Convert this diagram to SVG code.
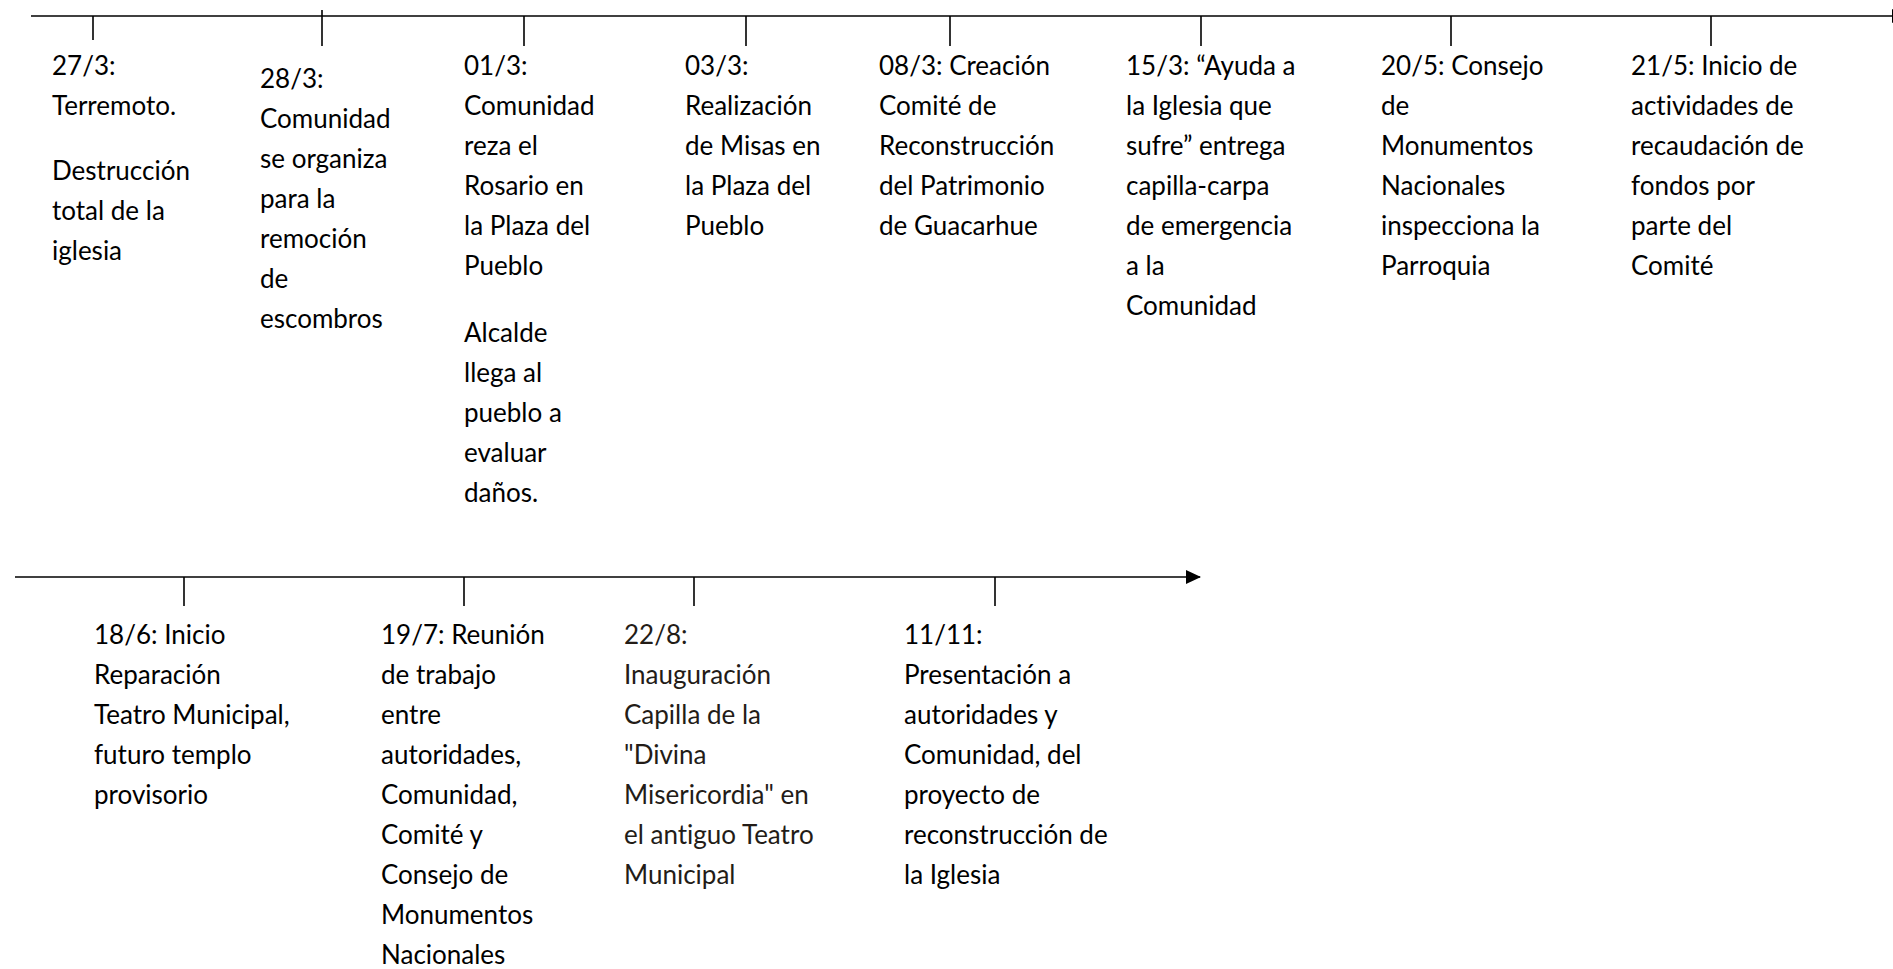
<svg xmlns="http://www.w3.org/2000/svg" width="1893" height="969" viewBox="0 0 1893 969">
<style>
  .ln { stroke: #000; stroke-width: 1.6; fill: none; }
  .tk { stroke: #000; stroke-width: 1.6; }
  text { font-family: Lato, "Open Sans", "Liberation Sans", sans-serif; font-size: 26px; fill: #000; font-variant-ligatures: none; font-feature-settings: "liga" 0, "dlig" 0; }
  .brown { fill: #231c17; }
</style>
<defs>
  <marker id="arr" markerWidth="16" markerHeight="14" refX="14" refY="7" orient="auto" markerUnits="userSpaceOnUse">
    <path d="M0,0 L15,7 L0,14 Z" fill="#000"/>
  </marker>
</defs>
<rect width="1893" height="969" fill="#fff"/>
<g id="connectors">
  <line class="ln" x1="31" y1="16" x2="1906" y2="16" marker-end="url(#arr)"/>
  <line class="ln" x1="15" y1="577" x2="1200" y2="577" marker-end="url(#arr)"/>
  <line class="tk" x1="93" y1="16" x2="93" y2="40"/>
  <line class="tk" x1="322" y1="10" x2="322" y2="46"/>
  <line class="tk" x1="524" y1="16" x2="524" y2="46"/>
  <line class="tk" x1="746" y1="16" x2="746" y2="46"/>
  <line class="tk" x1="950" y1="16" x2="950" y2="46"/>
  <line class="tk" x1="1201" y1="16" x2="1201" y2="46"/>
  <line class="tk" x1="1451" y1="16" x2="1451" y2="46"/>
  <line class="tk" x1="1711" y1="16" x2="1711" y2="46"/>
  <line class="tk" x1="184" y1="577" x2="184" y2="606"/>
  <line class="tk" x1="464" y1="577" x2="464" y2="606"/>
  <line class="tk" x1="694" y1="577" x2="694" y2="606"/>
  <line class="tk" x1="995" y1="577" x2="995" y2="606"/>
</g>
<g id="e2703">
  <text x="52" y="75">27/3:</text>
  <text x="52" y="115">Terremoto.</text>
  <text x="52" y="180">Destrucción</text>
  <text x="52" y="220">total de la</text>
  <text x="52" y="260">iglesia</text>
</g>
<g id="e2803">
  <text x="260" y="88">28/3:</text>
  <text x="260" y="128">Comunidad</text>
  <text x="260" y="168">se organiza</text>
  <text x="260" y="208">para la</text>
  <text x="260" y="248">remoción</text>
  <text x="260" y="288">de</text>
  <text x="260" y="328">escombros</text>
</g>
<g id="e0103">
  <text x="464" y="75">01/3:</text>
  <text x="464" y="115">Comunidad</text>
  <text x="464" y="155">reza el</text>
  <text x="464" y="195">Rosario en</text>
  <text x="464" y="235">la Plaza del</text>
  <text x="464" y="275">Pueblo</text>
  <text x="464" y="342">Alcalde</text>
  <text x="464" y="382">llega al</text>
  <text x="464" y="422">pueblo a</text>
  <text x="464" y="462">evaluar</text>
  <text x="464" y="502">daños.</text>
</g>
<g id="e0303">
  <text x="685" y="75">03/3:</text>
  <text x="685" y="115">Realización</text>
  <text x="685" y="155">de Misas en</text>
  <text x="685" y="195">la Plaza del</text>
  <text x="685" y="235">Pueblo</text>
</g>
<g id="e0803">
  <text x="879" y="75">08/3: Creación</text>
  <text x="879" y="115">Comité de</text>
  <text x="879" y="155">Reconstrucción</text>
  <text x="879" y="195">del Patrimonio</text>
  <text x="879" y="235">de Guacarhue</text>
</g>
<g id="e1503">
  <text x="1126" y="75">15/3: “Ayuda a</text>
  <text x="1126" y="115">la Iglesia que</text>
  <text x="1126" y="155">sufre” entrega</text>
  <text x="1126" y="195">capilla-carpa</text>
  <text x="1126" y="235">de emergencia</text>
  <text x="1126" y="275">a la</text>
  <text x="1126" y="315">Comunidad</text>
</g>
<g id="e2005">
  <text x="1381" y="75">20/5: Consejo</text>
  <text x="1381" y="115">de</text>
  <text x="1381" y="155">Monumentos</text>
  <text x="1381" y="195">Nacionales</text>
  <text x="1381" y="235">inspecciona la</text>
  <text x="1381" y="275">Parroquia</text>
</g>
<g id="e2105">
  <text x="1631" y="75">21/5: Inicio de</text>
  <text x="1631" y="115">actividades de</text>
  <text x="1631" y="155">recaudación de</text>
  <text x="1631" y="195">fondos por</text>
  <text x="1631" y="235">parte del</text>
  <text x="1631" y="275">Comité</text>
</g>
<g id="e1806">
  <text x="94" y="644">18/6: Inicio</text>
  <text x="94" y="684">Reparación</text>
  <text x="94" y="724">Teatro Municipal,</text>
  <text x="94" y="764">futuro templo</text>
  <text x="94" y="804">provisorio</text>
</g>
<g id="e1907">
  <text x="381" y="644">19/7: Reunión</text>
  <text x="381" y="684">de trabajo</text>
  <text x="381" y="724">entre</text>
  <text x="381" y="764">autoridades,</text>
  <text x="381" y="804">Comunidad,</text>
  <text x="381" y="844">Comité y</text>
  <text x="381" y="884">Consejo de</text>
  <text x="381" y="924">Monumentos</text>
  <text x="381" y="964">Nacionales</text>
</g>
<g id="e2208">
  <text class="brown" x="624" y="644">22/8:</text>
  <text class="brown" x="624" y="684">Inauguración</text>
  <text class="brown" x="624" y="724">Capilla de la</text>
  <text class="brown" x="624" y="764">"Divina</text>
  <text class="brown" x="624" y="804">Misericordia" en</text>
  <text class="brown" x="624" y="844">el antiguo Teatro</text>
  <text class="brown" x="624" y="884">Municipal</text>
</g>
<g id="e1111">
  <text x="904" y="644">11/11:</text>
  <text x="904" y="684">Presentación a</text>
  <text x="904" y="724">autoridades y</text>
  <text x="904" y="764">Comunidad, del</text>
  <text x="904" y="804">proyecto de</text>
  <text x="904" y="844">reconstrucción de</text>
  <text x="904" y="884">la Iglesia</text>
</g>
</svg>
